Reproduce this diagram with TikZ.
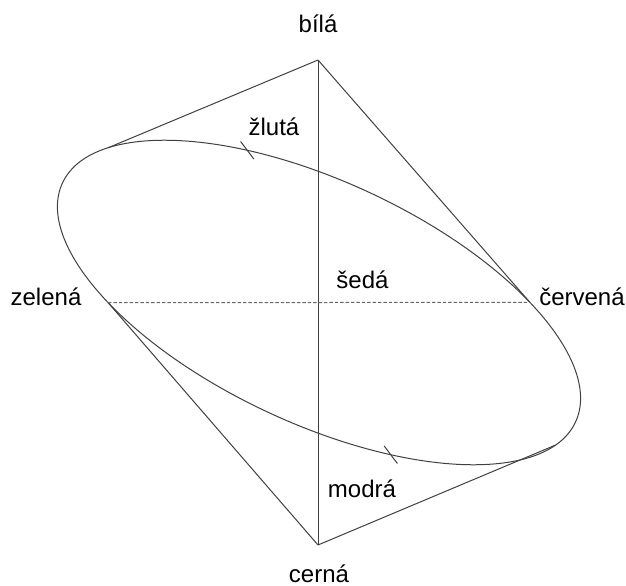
\documentclass[tikz,border=0pt]{standalone}
\usepackage{fontspec}
\setmainfont{Liberation Sans}
\usetikzlibrary{calc}
\tikzstyle{line} = [draw, line width=.5pt, black!75, fill=none]
\tikzstyle{dline} = [draw, line width=.5pt, black!60, dash pattern=on 1.7pt off 1pt]

\begin{document}
\begin{tikzpicture}[
    x=0.5pt, y=0.5pt,
    colname/.style={
      anchor=base,
      inner sep=0pt,
      font=\fontsize{12}{14}\selectfont,
    },
  ]
  \useasboundingbox (0,0) rectangle (626,585);

  \coordinate (white) at (318,525);
  \coordinate (black) at (318,40);
  \coordinate (mid) at (319,282.5);

  % hue circle
  \begin{scope}[shift={(mid)}, rotate=-25]
    \draw[line] (0,0) ellipse [x radius=283, y radius=121];
    \coordinate (red) at ({283*cos(47.5)},{121*sin(47.5)});
    \coordinate (green) at ({283*cos(227.5)},{121*sin(227.5)});
    \coordinate (upper) at ({283*cos(155)},{121*sin(155)});
    \coordinate (lower) at ({283*cos(-14)},{121*sin(-14)});
    \coordinate (yellow) at ({283*cos(117.2)},{121*sin(117.2)});
    \coordinate (blue) at ({283*cos(-62.8)},{121*sin(-62.8)});
  \end{scope}

  \node[colname] (bila) at (318,552) {bílá};
  \node[colname] (zluta) at (274,450) {žlutá};
  \node[colname] (zelena) at (46,280) {zelená};
  \node[colname] (cervena) at (582,280) {červená};
  \node[colname] (seda) at (362.5,297) {šedá};
  \node[colname] (modra) at (362,88) {modrá};
  \node[colname] (cerna) at (319,3) {cerná};

  \draw[line] (white) -- (black);
  \draw[line] (white) -- (upper);
  \draw[line] (white) -- (red);
  \draw[line] (green) -- (black);
  \draw[line] (black) -- (lower);
  \draw[dline] (green) -- (red);

  % marks on the circle
  \draw[line] ($(yellow)+(127:11)$) -- ($(yellow)+(-53:11)$);
  \draw[line] ($(blue)+(127:11)$) -- ($(blue)+(-53:11)$);

\end{tikzpicture}
\end{document}
